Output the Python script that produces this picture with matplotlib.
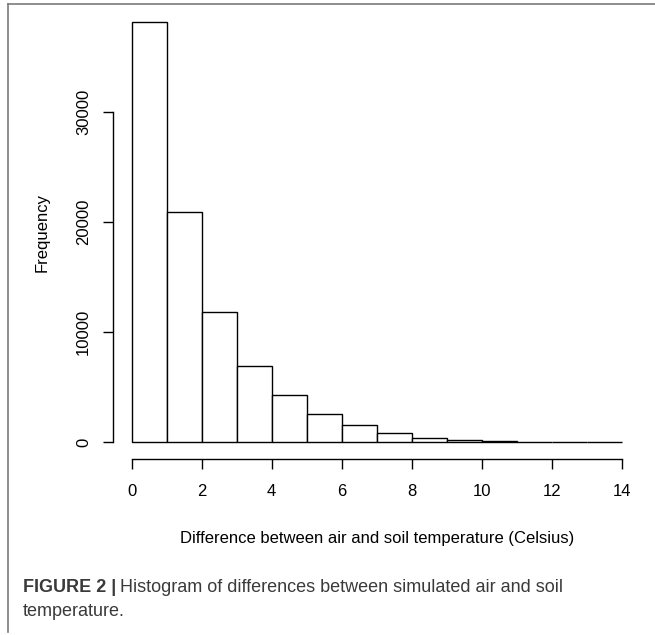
import matplotlib.pyplot as plt
from matplotlib.lines import Line2D
import numpy as np

plt.rcParams['font.family'] = ['Liberation Sans', 'DejaVu Sans']

# histogram of air-soil temperature differences (1 degree bins)
bin_edges = np.arange(0, 15)
counts = [38180, 20850, 11850, 6940, 4270, 2550, 1520, 820, 400, 190, 80, 30, 12, 5]
x_ticks = [0, 2, 4, 6, 8, 10, 12, 14]
y_ticks = [0, 10000, 20000, 30000]

fig = plt.figure(figsize=(6.55, 6.35), dpi=100)
ax = fig.add_axes([0.1730, 0.2767, 0.8056, 0.7151])

ax.bar(bin_edges[:-1], counts, width=1, align='edge',
       facecolor='white', edgecolor='black', linewidth=1.0)

ax.set_xlim(-0.526, 14.551)
ax.set_ylim(-1571, 39673)

# R-style detached axes
for s in ['top', 'right']:
    ax.spines[s].set_visible(False)
ax.spines['left'].set_bounds(0, 30000)
ax.spines['bottom'].set_bounds(0, 14)
ax.spines['left'].set_linewidth(1.0)
ax.spines['bottom'].set_linewidth(1.0)

ax.set_xticks(x_ticks)
ax.set_xticklabels([str(v) for v in x_ticks])
ax.set_yticks(y_ticks)
ax.set_yticklabels([str(v) for v in y_ticks], rotation=90, va='center')
ax.tick_params(axis='both', length=7.5, width=1.0, labelsize=12, color='black')
ax.tick_params(axis='x', pad=10.5)
ax.tick_params(axis='y', pad=8.5)

ax.set_xlabel('Difference between air and soil temperature (Celsius)', fontsize=12)
ax.xaxis.label.set_va('baseline')
ax.xaxis.set_label_coords(0.5, -0.184)
ax.set_ylabel('Frequency', fontsize=12, va='center')
ax.yaxis.set_label_coords(-0.1357, 0.5)

# frame lines of the figure panel
fig.add_artist(Line2D([7.5 / 655, 7.5 / 655], [1 - 4 / 635, 1 - 632 / 635],
                      transform=fig.transFigure, color='#7a7a7a', lw=1.2))
fig.add_artist(Line2D([7.5 / 655, 1.0], [1 - 4 / 635, 1 - 4 / 635],
                      transform=fig.transFigure, color='#7a7a7a', lw=1.2))

# caption
cap_color = '#3a3a3a'
t1 = fig.text(23 / 655, 1 - 592 / 635, 'FIGURE 2 |', fontsize=13, fontweight='bold',
              color=cap_color, va='baseline', ha='left')
fig.canvas.draw()
bb = t1.get_window_extent()
fig.text(bb.x1 / fig.bbox.width + 4 / 655, 1 - 592 / 635,
         'Histogram of differences between simulated air and soil',
         fontsize=13, color=cap_color, va='baseline', ha='left')
fig.text(23 / 655, 1 - 616 / 635, 'temperature.', fontsize=13, color=cap_color,
         va='baseline', ha='left')

fig.savefig('out.png', dpi=100)
